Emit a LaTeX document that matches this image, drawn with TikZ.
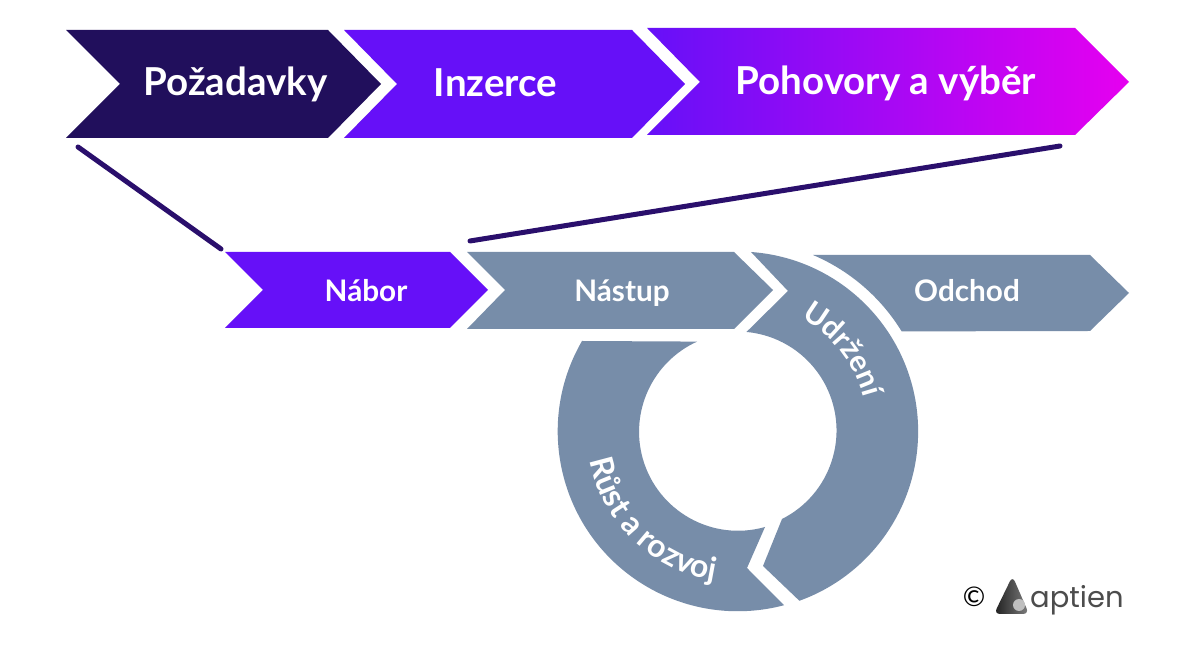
\documentclass[tikz,border=0pt]{standalone}
\usepackage{fontspec}
\setmainfont{Lato}
\newfontfamily\logofont{Poppins}
\usetikzlibrary{decorations.text}
\definecolor{navy}{HTML}{210F5C}
\definecolor{violet}{HTML}{6610F8}
\definecolor{magenta2}{HTML}{E600F0}
\definecolor{slate}{HTML}{778DA9}
\definecolor{linec}{HTML}{2A0F6C}
\tikzset{
  big/.style={text=white,font=\bfseries\fontsize{38.5}{38.5}\selectfont,anchor=base,inner sep=0pt},
  small/.style={text=white,font=\bfseries\fontsize{29.7}{30}\selectfont,anchor=base,inner sep=0pt},
  link/.style={draw=linec,line width=5pt,line cap=round},
  curved/.style n args={2}{decorate,decoration={text along path,text align=center,text color=white,
     text={|\bfseries\fontsize{#2}{#2}\selectfont|#1}}}
}
\begin{document}
\begin{tikzpicture}[x=1pt,y=1pt]
\useasboundingbox (0,0) rectangle (1200,653);
\fill[white] (0,0) rectangle (1200,653);
% top chevrons
\fill[navy] (66,623)--(328,623)--(381,569)--(328,515)--(66,515)--(120,569)--cycle;
\fill[violet] (344,623)--(632,623)--(685,569)--(632,515)--(344,515)--(397,569)--cycle;
\shade[left color=violet,right color=magenta2] (647,625)--(1075,625)--(1129,571)--(1075,518)--(647,518)--(700,571)--cycle;
% lower chevrons
\fill[violet] (225,401)--(450,401)--(488,363)--(450,325)--(225,325)--(263,363)--cycle;
\fill[slate] (467,401)--(734,401)--(773,363)--(734,324)--(467,324)--(505,363)--cycle;
\fill[slate] (813,398) arc[start angle=67,end angle=31.5,radius=192]--(1090,322)--(1129,360)--(1090,398)--cycle;
% ring segments
\coordinate (C) at (738,221.5);
\fill[slate] (751,401) arc[start angle=85.9,end angle=-70.1,radius=180]--(763,87)--(782,134)
   arc[start angle=-63.3,end angle=84.8,radius=99]--(788,362)--cycle;
\fill[slate] (582,312) arc[start angle=149.9,end angle=284.9,radius=180]--(747,85)--(765,126)
   arc[start angle=285.8,end angle=114.4,radius=99]--cycle;
% labels
\node[big] (poz) at (235.5,557) {Požadavky};
\node[big] (inz) at (495.5,556) {Inzerce};
\node[big] (poh) at (886,558) {Pohovory a výběr};
\node[small] (nab) at (366,351) {Nábor};
\node[small] (nas) at (622,351) {Nástup};
\node[small] (odc) at (967,351) {Odchod};
\path[curved={Udržení}{30}] ([shift={(66:130)}]C) arc[start angle=66,end angle=10,radius=130];
\path[curved={Růst a rozvoj}{32}] ([shift={(179:151)}]C) arc[start angle=179,end angle=273,radius=151];
% connector lines
\coordinate (a1) at (78,506);
\coordinate (a2) at (221,404);
\coordinate (b1) at (470,412);
\coordinate (b2) at (1060,507);
\draw[link] (a1)--(a2);
\draw[link] (b1)--(b2);
% logo
\node[anchor=base,inner sep=0pt,text=black,font=\fontsize{27}{27}\selectfont] (copy) at (974,46) {©};
\shade[left color=black!88,right color=black!50,rounded corners=6pt] (1012.5,77)--(1029,39)--(994,39)--cycle;
\fill[black!25] (1019,48) circle (6);
\node[anchor=base west,inner sep=0pt,text=black!70,font=\logofont\fontsize{29}{29}\selectfont] (apt) at (1030,45) {aptien};
\end{tikzpicture}
\end{document}
